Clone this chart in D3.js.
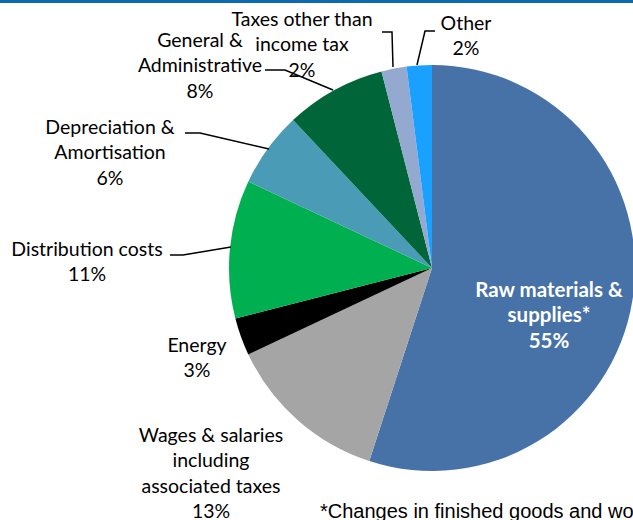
<!DOCTYPE html>
<html>
<head>
<meta charset="utf-8">
<script src="https://cdn.jsdelivr.net/npm/d3@7"></script>
<style>
  html, body { margin: 0; padding: 0; background: #fff; overflow: hidden; }
  svg { display: block; }
</style>
</head>
<body>
<svg id="chart" width="633" height="520"></svg>
<script>
// Cost breakdown, clockwise from 12 o'clock
const categories = [
  "Raw materials & supplies*",
  "Wages & salaries including associated taxes",
  "Energy",
  "Distribution costs",
  "Depreciation & Amortisation",
  "General & Administrative",
  "Taxes other than income tax",
  "Other"
];
const shares = [55, 13, 3, 11, 6, 8, 2, 2];
const sliceColors = ["#4672A7", "#A5A5A5", "#000000", "#00B050", "#4A9BB5", "#00663A", "#94A9D0", "#1AA0FF"];
// label text split into lines (last line carries the percentage)
const labelLines = [
  ["Raw materials &", "supplies*"],
  ["Wages & salaries", "including", "associated taxes"],
  ["Energy"],
  ["Distribution costs"],
  ["Depreciation &", "Amortisation"],
  ["General &", "Administrative"],
  ["Taxes other than", "income tax"],
  ["Other"]
];
const footnote = "*Changes in finished goods and work in progress included";

const W = 633, H = 520;
const cx = 432, cy = 268, R = 203;
const svg = d3.select("#chart");

// top rule
svg.append("rect").attr("x", 0).attr("y", 0).attr("width", W).attr("height", 3).attr("fill", "#0E6AB0");

const pie = d3.pie().sort(null).value(d => d);
const arcs = pie(shares);
const arc = d3.arc().innerRadius(0).outerRadius(R);

const g = svg.append("g").attr("transform", `translate(${cx},${cy})`);
g.selectAll("path.slice")
  .data(arcs)
  .join("path")
  .attr("class", "slice")
  .attr("d", arc)
  .attr("fill", (d, i) => sliceColors[i]);

// label placement (anchor centre x, first baseline y)
const labelPos = [
  { x: 549, y: 297, color: "#fff", bold: true },
  { x: 211, y: 442 },
  { x: 197, y: 352 },
  { x: 87, y: 256 },
  { x: 110, y: 134 },
  { x: 200, y: 47 },
  { x: 302, y: 26 },
  { x: 466, y: 30 }
];
// leader lines: label-side point, elbow, end on the slice edge
const leaders = [
  null, null, null,
  [[170, 255], [183, 255], [231, 247]],
  [[185, 133], [200, 133], [269, 149]],
  [[265, 70], [285, 70], [333, 90]],
  [[382, 32], [392, 32], [393, 67]],
  [[435, 31], [425, 31], [417, 65]]
];

leaders.forEach(pts => {
  if (!pts) return;
  svg.append("path")
    .attr("d", d3.line()(pts))
    .attr("fill", "none")
    .attr("stroke", "#000")
    .attr("stroke-width", 1.5);
});

const lineH = 25.3;
arcs.forEach((a, i) => {
  const p = labelPos[i];
  const lines = labelLines[i].concat([shares[i] + "%"]);
  const t = svg.append("text")
    .attr("text-anchor", "middle")
    .attr("font-family", "Lato, 'Open Sans', sans-serif")
    .attr("font-size", p.bold ? 20.5 : 19.5)
    .attr("font-weight", p.bold ? 700 : 400)
    .attr("fill", p.color || "#000");
  lines.forEach((s, k) => {
    t.append("tspan").attr("x", p.x).attr("y", p.y + k * lineH).text(s);
  });
});

svg.append("text")
  .attr("x", 320).attr("y", 518)
  .attr("font-family", "'Liberation Sans', Arial, sans-serif")
  .attr("font-size", 20)
  .attr("fill", "#000")
  .text(footnote);
</script>
</body>
</html>
